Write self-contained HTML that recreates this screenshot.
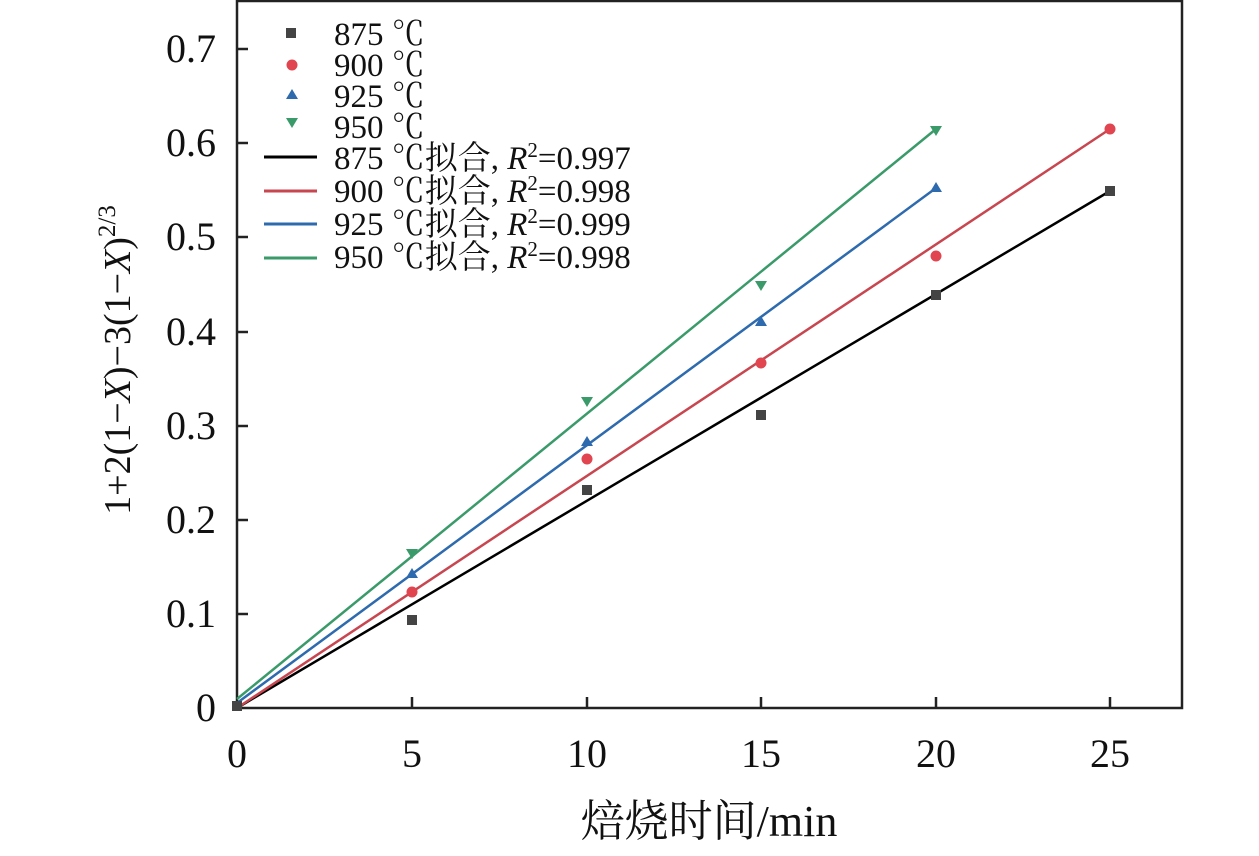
<!DOCTYPE html>
<html><head><meta charset="utf-8"><style>
body{margin:0;background:#fff}
text{font-family:"Liberation Serif","Noto Serif CJK SC",serif;fill:#111}
</style></head><body>
<svg width="1259" height="851" viewBox="0 0 1259 851" xmlns="http://www.w3.org/2000/svg">
<rect x="237" y="1" width="945" height="707" fill="none" stroke="#222" stroke-width="2.5"/>
<g stroke="#222" stroke-width="2.5">
<line x1="237" y1="49" x2="248" y2="49"/><line x1="237" y1="143" x2="248" y2="143"/><line x1="237" y1="237" x2="248" y2="237"/><line x1="237" y1="332" x2="248" y2="332"/><line x1="237" y1="426" x2="248" y2="426"/><line x1="237" y1="520" x2="248" y2="520"/><line x1="237" y1="614" x2="248" y2="614"/>
<line x1="412" y1="708" x2="412" y2="697"/><line x1="587" y1="708" x2="587" y2="697"/><line x1="761" y1="708" x2="761" y2="697"/><line x1="936" y1="708" x2="936" y2="697"/><line x1="1110" y1="708" x2="1110" y2="697"/>
</g>
<g font-size="40" text-anchor="end">
<text x="216" y="62">0.7</text><text x="216" y="156">0.6</text><text x="216" y="250">0.5</text><text x="216" y="345">0.4</text><text x="216" y="439">0.3</text><text x="216" y="533">0.2</text><text x="216" y="627">0.1</text><text x="216" y="721">0</text>
</g>
<g font-size="40" text-anchor="middle">
<text x="237" y="767">0</text><text x="412" y="767">5</text><text x="587" y="767">10</text><text x="761" y="767">15</text><text x="936" y="767">20</text><text x="1110" y="767">25</text>
</g>
<text x="709" y="836" font-size="44" text-anchor="middle">焙烧时间/min</text>
<text transform="translate(130,360) rotate(-90)" font-size="38" text-anchor="middle">1+2(1−<tspan font-style="italic">X</tspan>)−3(1−<tspan font-style="italic">X</tspan>)<tspan font-size="25" dy="-15">2/3</tspan></text>
<line x1="237" y1="708" x2="1110" y2="191" stroke="#000" stroke-width="2.5"/>
<line x1="237" y1="708" x2="1110" y2="129" stroke="#c8464f" stroke-width="2.5"/>
<line x1="237" y1="703" x2="936" y2="188" stroke="#2d6aae" stroke-width="2.5"/>
<line x1="237" y1="699" x2="936" y2="129" stroke="#3a9a6a" stroke-width="2.5"/>
<g fill="#444">
<rect x="232" y="701" width="10" height="10"/><rect x="407" y="615" width="10" height="10"/><rect x="582" y="485" width="10" height="10"/><rect x="756" y="410" width="10" height="10"/><rect x="931" y="290" width="10" height="10"/><rect x="1105" y="186" width="10" height="10"/>
</g>
<g fill="#e04550">
<circle cx="412" cy="592" r="5.5"/><circle cx="587" cy="459" r="5.5"/><circle cx="761" cy="363" r="5.5"/><circle cx="936" cy="256" r="5.5"/><circle cx="1110" cy="129" r="5.5"/>
</g>
<g fill="#2d6aae">
<polygon points="412,568 406,578 418,578"/><polygon points="587,436 581,446 593,446"/><polygon points="761,316 755,326 767,326"/><polygon points="936,182 930,192 942,192"/>
</g>
<g fill="#3a9a6a">
<polygon points="406,549 418,549 412,559"/><polygon points="581,397 593,397 587,407"/><polygon points="755,281 767,281 761,291"/><polygon points="930,126 942,126 936,136"/>
</g>
<rect x="286" y="28" width="10" height="10" fill="#444"/>
<circle cx="292" cy="65" r="5.5" fill="#e04550"/>
<polygon points="292,89 286,99 298,99" fill="#2d6aae"/>
<polygon points="286,118 298,118 292,128" fill="#3a9a6a"/>
<line x1="264" y1="157" x2="317" y2="157" stroke="#000" stroke-width="3"/>
<line x1="264" y1="191" x2="317" y2="191" stroke="#c8464f" stroke-width="3"/>
<line x1="264" y1="224" x2="317" y2="224" stroke="#2d6aae" stroke-width="3"/>
<line x1="264" y1="258" x2="317" y2="258" stroke="#3a9a6a" stroke-width="3"/>
<g font-size="33">
<text x="334" y="45">875 ℃</text><text x="334" y="76">900 ℃</text><text x="334" y="107">925 ℃</text><text x="334" y="138">950 ℃</text>
<text x="334" y="169">875 ℃拟合, <tspan font-style="italic">R</tspan><tspan font-size="21" dy="-12">2</tspan><tspan dy="12">=0.997</tspan></text>
<text x="334" y="202">900 ℃拟合, <tspan font-style="italic">R</tspan><tspan font-size="21" dy="-12">2</tspan><tspan dy="12">=0.998</tspan></text>
<text x="334" y="235">925 ℃拟合, <tspan font-style="italic">R</tspan><tspan font-size="21" dy="-12">2</tspan><tspan dy="12">=0.999</tspan></text>
<text x="334" y="268">950 ℃拟合, <tspan font-style="italic">R</tspan><tspan font-size="21" dy="-12">2</tspan><tspan dy="12">=0.998</tspan></text>
</g>
</svg>
</body></html>
